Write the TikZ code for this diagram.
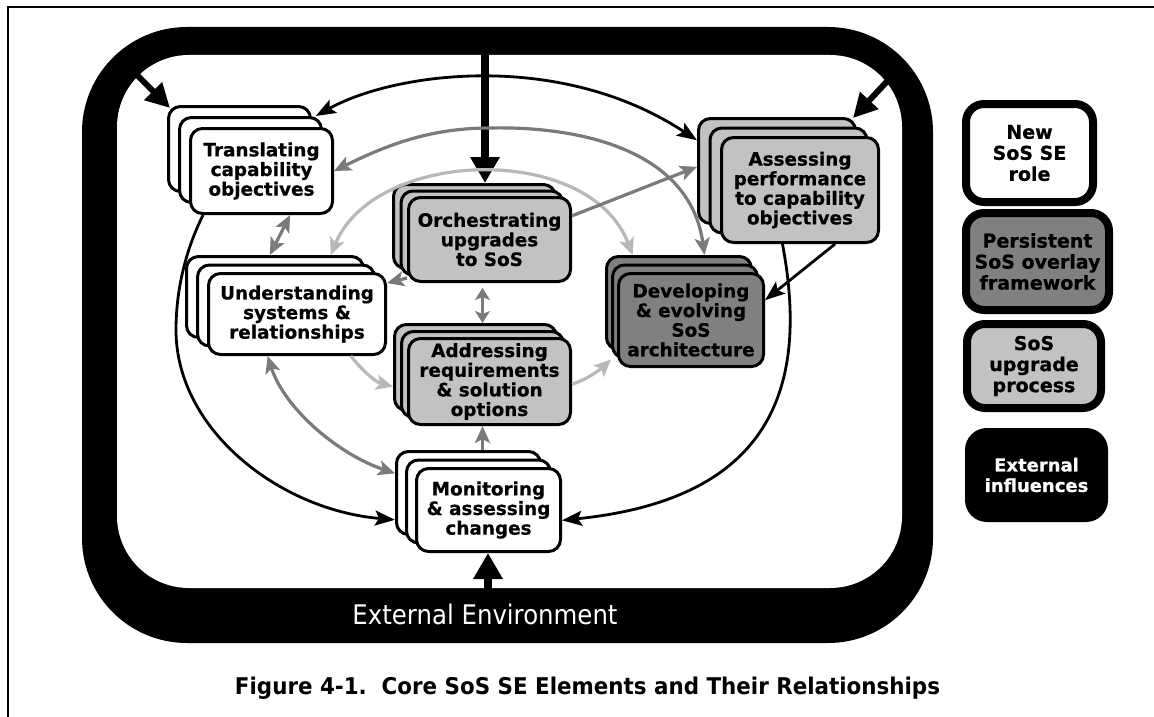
\documentclass[tikz,border=0pt]{standalone}
\usepackage{fontspec}
\setmainfont{DejaVu Sans}
\newfontfamily\heavyfont{DejaVu Sans Bold}[FakeBold=0.6]
\usetikzlibrary{arrows.meta,calc}

\definecolor{lightfill}{gray}{0.76}
\definecolor{darkfill}{gray}{0.50}
\definecolor{midarrow}{gray}{0.48}
\definecolor{lightarrow}{gray}{0.72}

\newcommand\boxfont{\fontsize{18.4pt}{19.6pt}\selectfont\heavyfont}
\newcommand\legendfont{\fontsize{19pt}{21pt}\selectfont\heavyfont}

\tikzset{
  stkbox/.style={draw=black, line width=3pt, rounded corners=12pt, inner sep=0pt,
                 align=center, font=\boxfont},
  whitebox/.style={fill=white},
  greybox/.style={fill=lightfill},
  darkbox/.style={fill=darkfill},
  extarrow/.style={draw=black, line width=8.5pt, -{Triangle[length=26pt,width=28pt]}},
  extdiag/.style={draw=black, line width=6pt, -{Triangle[length=24pt,width=24pt]}},
  cyclelink/.style={draw=black, line width=2.8pt, -{Stealth[length=20pt,width=15pt,inset=4pt]}},
  cycleboth/.style={draw=black, line width=2.8pt,
     {Stealth[length=20pt,width=15pt,inset=4pt]}-{Stealth[length=20pt,width=15pt,inset=4pt]}},
  midlink/.style={draw=midarrow, line width=3.2pt, -{Stealth[length=17pt,width=15pt,inset=4pt]}},
  midboth/.style={draw=midarrow, line width=3.2pt,
     {Stealth[length=17pt,width=15pt,inset=4pt]}-{Stealth[length=17pt,width=15pt,inset=4pt]}},
  midshort/.style={draw=midarrow, line width=3.2pt,
     {Stealth[length=12pt,width=15pt,inset=3pt]}-{Stealth[length=12pt,width=15pt,inset=3pt]}},
  lightlink/.style={draw=lightarrow, line width=3.2pt, -{Stealth[length=17pt,width=15pt,inset=4pt]}},
  lightboth/.style={draw=lightarrow, line width=3.2pt,
     {Stealth[length=17pt,width=15pt,inset=4pt]}-{Stealth[length=17pt,width=15pt,inset=4pt]}},
  legendbox/.style={draw=black, line width=8pt, rounded corners=18pt, inner sep=0pt,
                    align=center, font=\legendfont},
}

% three stacked cards: name, x, y, width, height, dx, dy, fill style, text
\newcommand\sosstack[9]{%
  \node[stkbox,#8,minimum width=#4pt,minimum height=#5pt] (#1-b2) at ({#2-2*#6},{#3-2*#7}) {};
  \node[stkbox,#8,minimum width=#4pt,minimum height=#5pt] (#1-b1) at ({#2-#6},{#3-#7}) {};
  \node[stkbox,#8,minimum width=#4pt,minimum height=#5pt] (#1) at (#2,#3) {#9};
}

\begin{document}
\begin{tikzpicture}[x=1pt,y=-1pt]
\useasboundingbox (0,0) rectangle (1154,717);

% page frame
\draw[line width=2pt] (7.5,717) -- (7.5,7.5) -- (1154,7.5);

% external environment band
\fill[black, rounded corners=105pt] (82,27) rectangle (933,643);
\fill[white, rounded corners=72pt] (117,55) rectangle (902,588);
\node[text=white, anchor=base, inner sep=0pt] (env) at (485,624)
  {\resizebox{265pt}{20.5pt}{External Environment}};

% core elements
\sosstack{trans}{261.5}{171}{142}{85}{11}{11}{whitebox}{Translating\\capability\\objectives}
\sosstack{assess}{800}{190}{157}{105}{11.5}{9.5}{greybox}{Assessing\\performance\\to capability\\objectives}
\sosstack{orch}{489.5}{239.5}{162}{84}{7.5}{6.5}{greybox}{Orchestrating\\upgrades\\to SoS}
\sosstack{under}{297}{314}{177}{81}{11}{8.5}{whitebox}{Understanding\\systems \&\\relationships}
\sosstack{addr}{489.5}{381.5}{162}{86}{7}{7}{greybox}{Addressing\\requirements\\\& solution\\options}
\sosstack{monit}{488.5}{510}{144}{83}{10}{8.5}{whitebox}{Monitoring\\\& assessing\\changes}
\sosstack{devel}{691}{320}{145}{93}{6}{8.5}{darkbox}{Developing\\\& evolving\\SoS\\architecture}

% external influences entering from the band
\coordinate (ext-tl) at (132,70);
\coordinate (ext-top) at (485,50);
\coordinate (ext-tr) at (892,76);
\coordinate (ext-bot) at (488,594);
\draw[extdiag] (ext-tl) -- ($(trans-b2.north west)+(3,3)$);
\draw[extarrow] (ext-top) -- (ext-top |- orch-b2.north);
\draw[extdiag] (ext-tr) -- ($(assess-b2.north east)+(-4,1)$);
\draw[extarrow] (ext-bot) -- (ext-bot |- monit.south);

% outer black cycle
\draw[cycleboth] (trans-b1.34) .. controls (395,72) and (560,50) .. (assess-b2.159);
\draw[cyclelink] (trans.217) .. controls (188,245) and (176,285) .. (176,330)
                 .. controls (176,430) and (280,510) .. (monit-b2.200);
\draw[cyclelink] (assess.252) .. controls (812,400) and (760,500) .. (monit.352);
\draw[cyclelink] (assess.303) -- (devel.15);

% upgrade process relationships
\draw[midboth] (trans.east) .. controls (387,145) and (430,128) .. (490,128)
               .. controls (580,126) and (690,150) .. (devel-b2.62);
\draw[lightboth] (under-b2.37) .. controls (375,148) and (590,142) .. (devel-b2.134);
\draw[midboth] (trans.303) -- (under-b2.97);
\draw[midlink] (orch.205) -- (under.19);
\draw[midlink] (orch.16) -- (assess-b2.177);
\draw[midshort, shorten <=5pt] (orch.south -| addr-b1.north) -- (addr-b2.north -| addr-b1.north);
\draw[lightlink] (under.322) .. controls (360,368) and (375,382) .. (addr-b2.193);
\draw[lightlink] (addr.-2) .. controls (590,378) and (602,368) .. (devel-b1.south west);
\draw[midlink] (monit-b2.north -| addr-b1.south) -- (addr.south -| addr-b1.south);
\draw[midboth] (under.235) .. controls (285,410) and (340,455) .. (monit-b2.165);

% legend
\node[legendbox, fill=white, minimum width=127pt, minimum height=98pt] (leg-new)
  at (1029.5,153) {New\\SoS SE\\role};
\node[legendbox, fill=darkfill, minimum width=143pt, minimum height=97pt] (leg-overlay)
  at (1037.5,261.5) {Persistent\\SoS overlay\\framework};
\node[legendbox, fill=lightfill, minimum width=134pt, minimum height=84pt] (leg-upgrade)
  at (1034,366) {SoS\\upgrade\\process};
\node[legendbox, fill=black, text=white, minimum width=135pt, minimum height=86pt,
      font=\fontsize{18pt}{20.5pt}\selectfont\heavyfont] (leg-ext)
  at (1036.5,475) {External\\influences};

% caption
\node[anchor=base, inner sep=0pt] (caption) at (587.5,694)
  {\resizebox{705pt}{17.5pt}{\bfseries Figure 4-1.\ \ Core SoS SE Elements and Their Relationships}};
\end{tikzpicture}
\end{document}
